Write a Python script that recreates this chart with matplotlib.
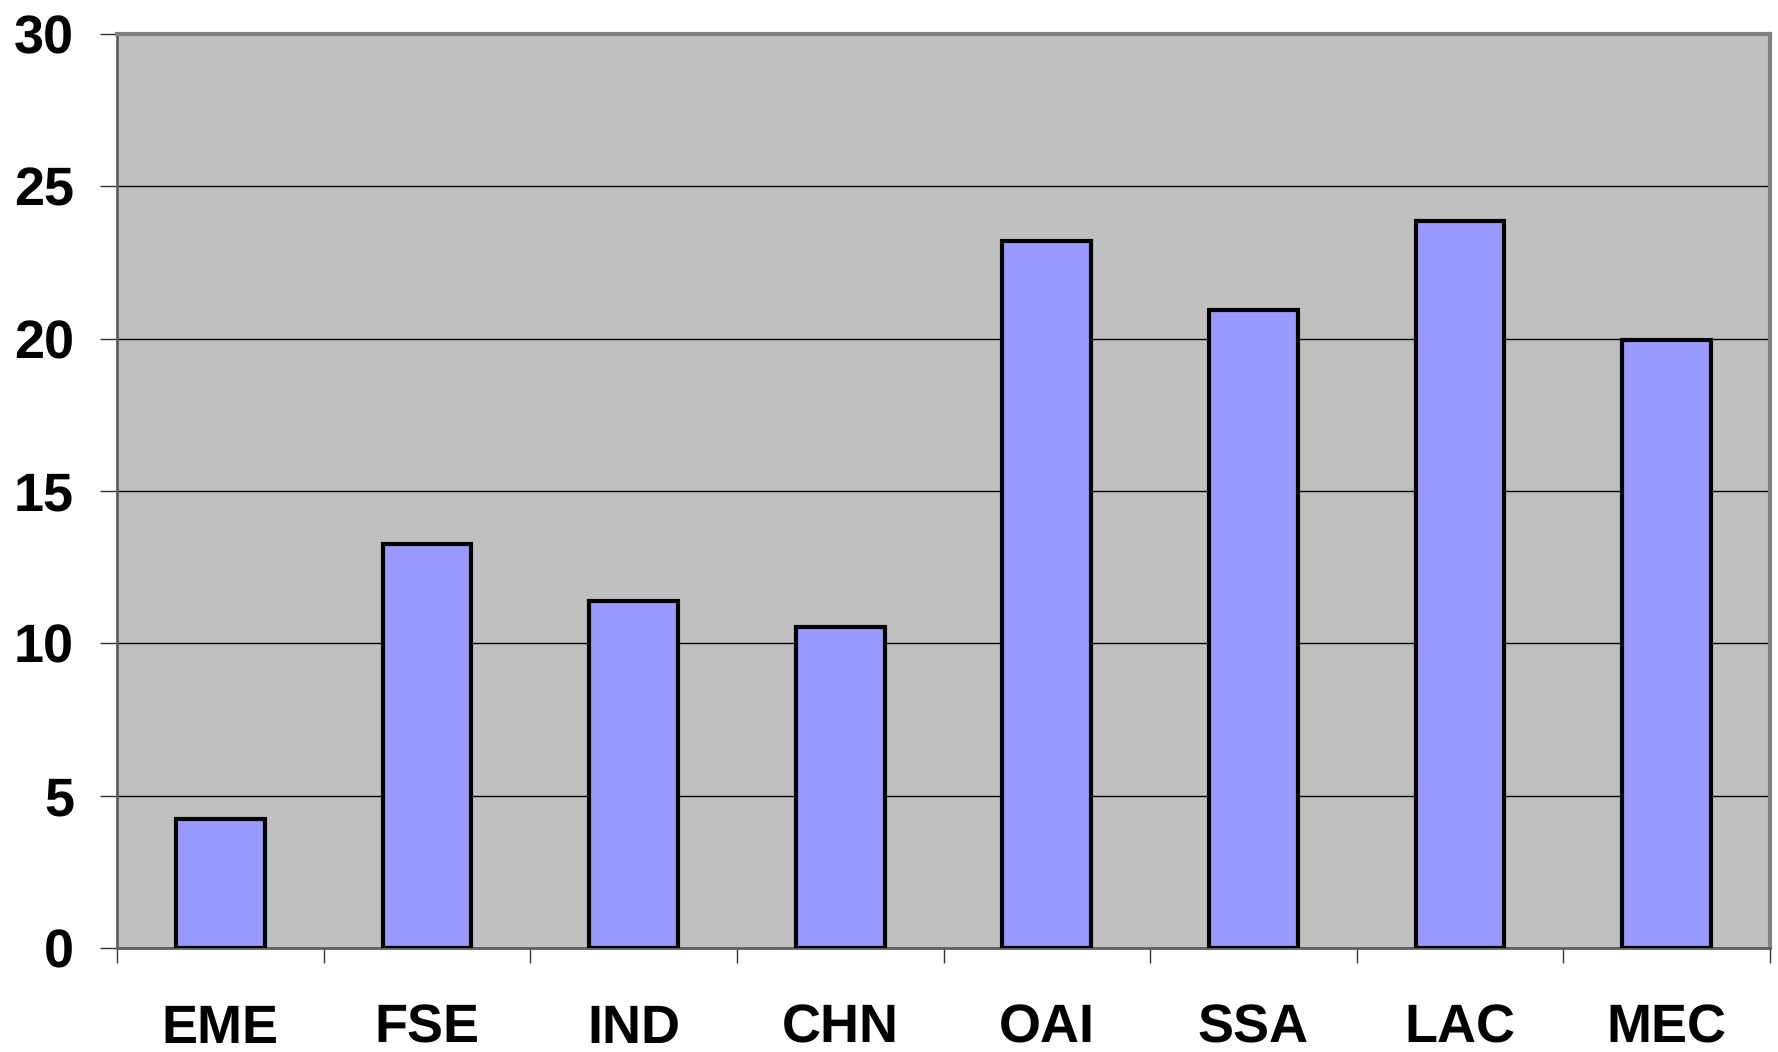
import matplotlib
matplotlib.use("Agg")
import matplotlib.pyplot as plt
import numpy as np

categories = ["EME", "FSE", "IND", "CHN", "OAI", "SSA", "LAC", "MEC"]
values = [4.25, 13.25, 11.4, 10.55, 23.2, 20.95, 23.85, 19.95]
yticks = [0, 5, 10, 15, 20, 25, 30]

plt.rcParams['font.family'] = 'Liberation Sans'
plt.rcParams['text.hinting'] = 'no_hinting'
plt.rcParams['text.hinting_factor'] = 1

fig = plt.figure(figsize=(17.78, 10.52), dpi=100)
ax = fig.add_axes([117/1778, 104/1052, (1770-117)/1778, (948-34)/1052])
ax.set_facecolor('#C0C0C0')

x = np.arange(len(categories))
ax.bar(x, values, width=0.43, color='#9999FF', edgecolor='black', linewidth=3.0, zorder=3)

ax.set_xlim(-0.5, len(categories) - 0.5)
ax.set_ylim(0, 30)
ax.set_yticks(yticks)
ax.set_yticklabels([str(t) for t in yticks], fontsize=39, fontweight='bold')
ax.yaxis.grid(True, color='black', linewidth=1.0, zorder=1)
ax.set_axisbelow(True)

ax.set_xticks(x)
ax.set_xticklabels([])
ax.set_xticks(np.arange(-0.5, len(categories)), minor=True)
ax.tick_params(axis='x', which='major', length=0)
ax.tick_params(axis='x', which='minor', length=11, width=1, color='#333333')
ax.tick_params(axis='y', which='major', length=12, width=1, color='#333333', pad=19)

trans = ax.get_xaxis_transform()
for xi, lab in zip(x, categories):
    ax.text(xi, -0.1035, lab, transform=trans, ha='center', va='baseline',
            fontsize=39, fontweight='bold', clip_on=False)

ax.spines['left'].set_color('#606060')
ax.spines['left'].set_linewidth(2)
ax.spines['bottom'].set_color('#606060')
ax.spines['bottom'].set_linewidth(2)
ax.spines['top'].set_color('#808080')
ax.spines['top'].set_linewidth(3)
ax.spines['right'].set_color('#808080')
ax.spines['right'].set_linewidth(3)

fig.savefig("out.png", dpi=100)
